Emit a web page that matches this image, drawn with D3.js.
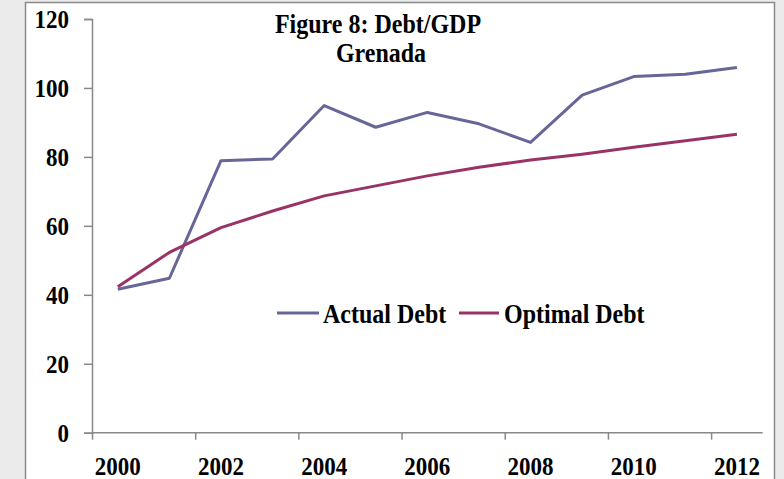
<!DOCTYPE html>
<html>
<head>
<meta charset="utf-8">
<script src="https://cdn.jsdelivr.net/npm/d3@7"></script>
<style>
  html, body { margin: 0; padding: 0; background: #ebebeb; }
  svg { display: block; }
  text { font-family: "Liberation Serif", "Times New Roman", serif; font-weight: bold; fill: #000; }
</style>
</head>
<body>
<svg id="chart" width="784" height="479"></svg>
<script>
// Debt-to-GDP ratio for Grenada, actual vs optimal path (percent of GDP)
const years = [2000, 2001, 2002, 2003, 2004, 2005, 2006, 2007, 2008, 2009, 2010, 2011, 2012];
const actualDebt  = [41.6, 44.8, 78.9, 79.4, 94.9, 88.6, 92.9, 89.6, 84.2, 97.9, 103.3, 104.0, 105.9];
const optimalDebt = [42.3, 52.3, 59.5, 64.3, 68.7, 71.6, 74.5, 77.0, 79.1, 80.8, 82.8, 84.7, 86.6];
const yTicks = [0, 20, 40, 60, 80, 100, 120];
const xLabelYears = [2000, 2002, 2004, 2006, 2008, 2010, 2012];
const seriesNames = ["Actual Debt", "Optimal Debt"];
const seriesColors = ["#666699", "#993366"];

const svg = d3.select("#chart");
const W = 784, H = 479;
const plot = { left: 92, right: 762.7, top: 19, bottom: 432.7 };
const axisColor = "#888888";
const vStretch = 1.12;

// page background and chart frame
svg.append("rect").attr("x", 0).attr("y", 0).attr("width", W).attr("height", H).attr("fill", "#ebebeb");
svg.append("rect")
  .attr("x", 25.5).attr("y", 2.5).attr("width", 749).attr("height", H + 20)
  .attr("fill", "#ffffff").attr("stroke", "#8a8a8a").attr("stroke-width", 1.5);

// scales
const x = d3.scaleBand().domain(years).range([plot.left, plot.right]).padding(0);
const xBoundary = d3.scaleLinear().domain([0, years.length]).range([plot.left, plot.right]);
const y = d3.scaleLinear().domain([0, 120]).range([plot.bottom, plot.top]);
const cx = d => x(d) + x.bandwidth() / 2;

// y axis
const yAxis = svg.append("g")
  .attr("transform", `translate(${plot.left},0)`)
  .call(d3.axisLeft(y).tickValues(yTicks).tickSize(8).tickPadding(15).tickFormat(d3.format("d")));
yAxis.select(".domain").attr("stroke", axisColor).attr("stroke-width", 1.5);
yAxis.selectAll(".tick line").attr("stroke", axisColor).attr("stroke-width", 1.5);
yAxis.selectAll(".tick text")
  .attr("font-size", 23).attr("dy", "0.34em")
  .attr("transform", `scale(1,${vStretch})`);

// x axis: tick marks between every second category
const xTickAxis = svg.append("g")
  .attr("transform", `translate(0,${plot.bottom})`)
  .call(d3.axisBottom(xBoundary).tickValues(d3.range(0, years.length, 2)).tickSize(7).tickFormat(""));
xTickAxis.select(".domain").remove();
xTickAxis.selectAll(".tick line").attr("stroke", axisColor).attr("stroke-width", 1.5);
svg.append("line")
  .attr("x1", plot.left).attr("x2", plot.right)
  .attr("y1", plot.bottom).attr("y2", plot.bottom)
  .attr("stroke", axisColor).attr("stroke-width", 1.5);

// x labels centred on their categories
const xLabelAxis = svg.append("g")
  .attr("transform", `translate(0,${plot.bottom})`)
  .call(d3.axisBottom(x).tickValues(xLabelYears).tickSize(0).tickPadding(21));
xLabelAxis.select(".domain").remove();
xLabelAxis.selectAll(".tick text")
  .attr("font-size", 23).attr("dy", "0.71em")
  .attr("transform", `scale(1,${vStretch})`);

// series lines
const line = d3.line().x((d, i) => cx(years[i])).y(d => y(d));
[actualDebt, optimalDebt].forEach((vals, i) => {
  svg.append("path")
    .datum(vals)
    .attr("d", line)
    .attr("fill", "none")
    .attr("stroke", seriesColors[i])
    .attr("stroke-width", 3)
    .attr("stroke-linejoin", "round");
});

// title
function stretchedText(g, tx, ty, str, size, anchor) {
  g.append("text")
    .attr("transform", `translate(${tx},${ty}) scale(1,${vStretch})`)
    .attr("text-anchor", anchor)
    .attr("font-size", size)
    .text(str);
}
const titleG = svg.append("g");
stretchedText(titleG, 378, 33, "Figure 8: Debt/GDP", 24, "middle");
stretchedText(titleG, 381, 62, "Grenada", 24, "middle");

// legend
const legend = svg.append("g");
const legendItems = [
  { x0: 277, x1: 319, tx: 323 },
  { x0: 459, x1: 499, tx: 504 }
];
legendItems.forEach((it, i) => {
  legend.append("line")
    .attr("x1", it.x0).attr("x2", it.x1).attr("y1", 313).attr("y2", 313)
    .attr("stroke", seriesColors[i]).attr("stroke-width", 3);
  stretchedText(legend, it.tx, 323, seriesNames[i], 24, "start");
});
</script>
</body>
</html>
